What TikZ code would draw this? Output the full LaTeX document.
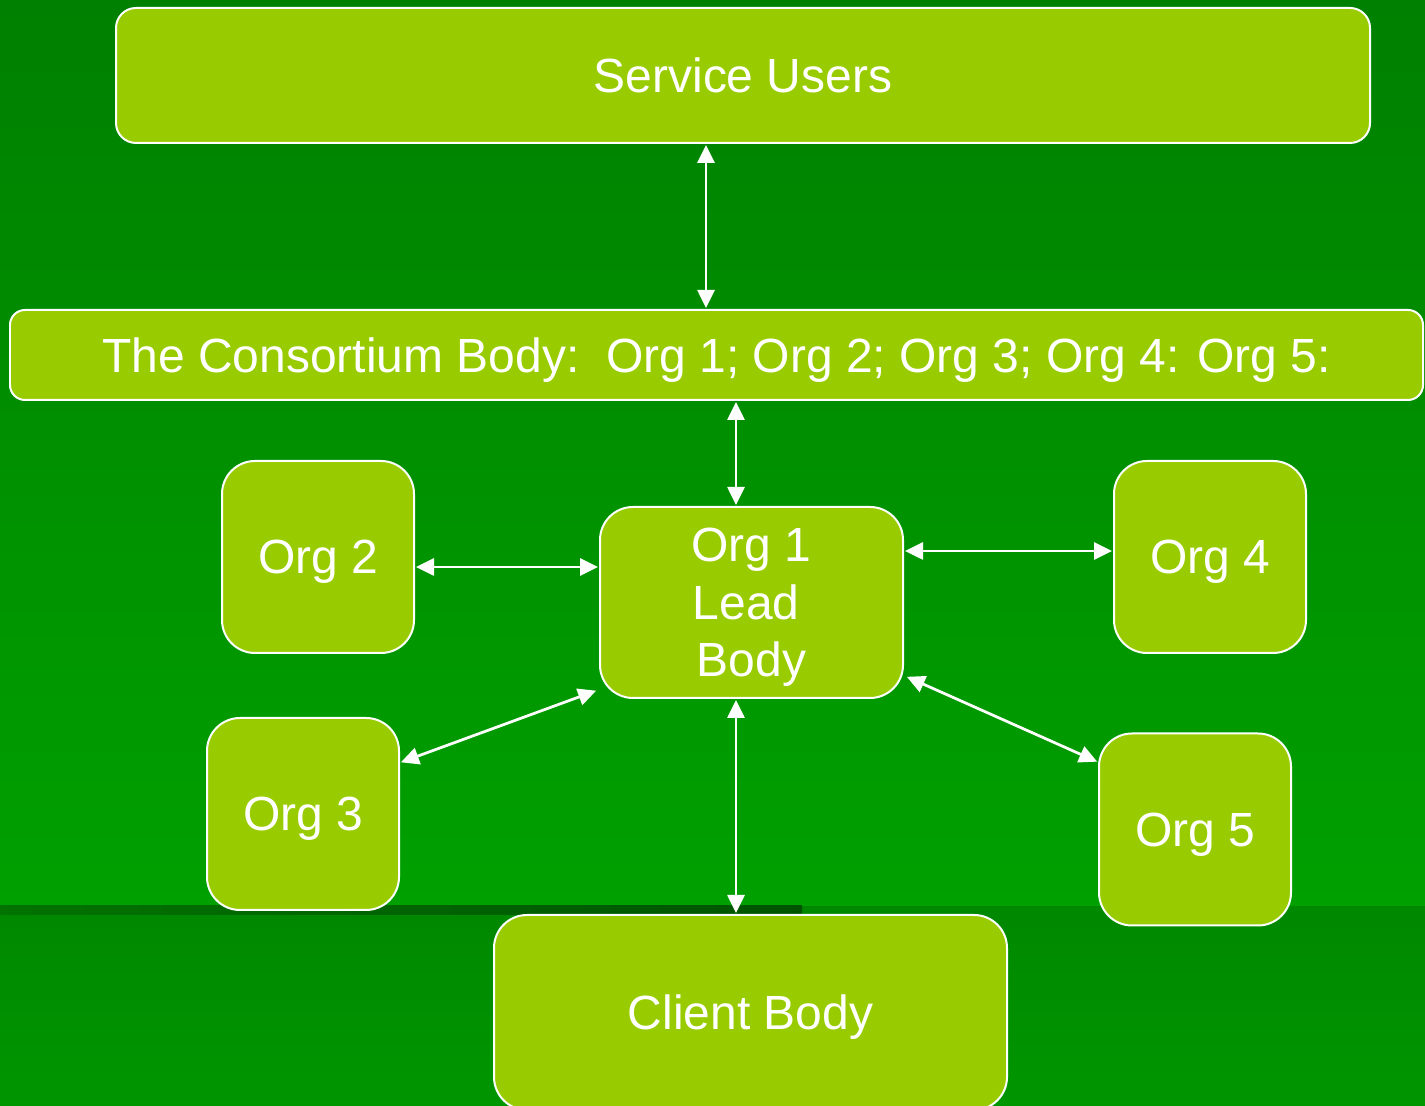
\documentclass[tikz,border=0pt]{standalone}
\usepackage{fontspec}
\setmainfont{Liberation Sans}
\usetikzlibrary{arrows.meta}
\definecolor{bgtop}{HTML}{008000}
\definecolor{bgmid}{HTML}{00A000}
\definecolor{bglow}{HTML}{008800}
\definecolor{bgbot}{HTML}{009600}
\definecolor{boxgreen}{HTML}{99CC00}
\begin{document}
\begin{tikzpicture}[
    box/.style={draw=white,line width=0.04cm,fill=boxgreen,text=white,
        rounded corners=0.66cm,inner sep=0pt,outer sep=0pt,align=center,
        text depth=0pt,font=\fontsize{27.3}{32.7}\selectfont},
    orgbox/.style={box,minimum width=3.84cm,minimum height=3.84cm},
    arr/.style={{Triangle[length=0.36cm,width=0.34cm]}-{Triangle[length=0.36cm,width=0.34cm]},
        white,line width=0.055cm,shorten <=0.04cm,shorten >=0.04cm}
    ]
    % background
    \useasboundingbox (0,0) rectangle (28.5,22.12);
    \shade[top color=bgtop,bottom color=bgmid] (0,3.98) rectangle (28.5,22.12);
    \shade[top color=bglow,bottom color=bgbot] (0,0) rectangle (28.5,3.98);
    \shade[left color=green!45!black,right color=green!33!black] (0,3.82) rectangle (16.04,4.0);
    
    \node[box,rounded corners=0.4cm,minimum width=25.08cm,minimum height=2.7cm] (users) at (14.86,20.61) {Service Users};
    \node[box,rounded corners=0.3cm,minimum width=28.26cm,minimum height=1.8cm] (cons) at (14.33,15.02) {The Consortium Body:\ \ Org 1; Org 2; Org 3; Org 4: Org 5:};
    
    \node[box,minimum width=6.06cm,minimum height=3.82cm] (org1) at (15.03,10.07) {Org 1\\Lead\hphantom{i}\\Body};
    \node[orgbox] (org2) at (6.36,10.98) {Org 2};
    \node[orgbox] (org4) at (24.2,10.98) {Org 4};
    \node[orgbox] (org3) at (6.06,5.84) {Org 3};
    \node[orgbox] (org5) at (23.9,5.53) {Org 5};
    
    \node[box,minimum width=10.26cm,minimum height=3.9cm] (client) at (15.01,1.87) {Client Body};
    
    \draw[arr] ([xshift=-0.74cm]users.south) -- ([xshift=-0.74cm]users.south |- cons.north);
    \draw[arr] ([xshift=-0.31cm]org1.north |- cons.south) -- ([xshift=-0.31cm]org1.north);
    \draw[arr] ([yshift=-0.2cm]org2.east) -- ([yshift=-0.2cm]org2.east -| org1.west);
    \draw[arr] ([yshift=1.03cm]org1.east) -- ([yshift=1.03cm]org1.east -| org4.west);
    \draw[arr] ([yshift=1.02cm]org3.east) -- ([xshift=-0.04cm,yshift=0.16cm]org1.south west);
    \draw[arr] ([xshift=0.04cm,yshift=0.44cm]org1.south east) -- ([yshift=-0.58cm]org5.north west);
    \draw[arr] ([xshift=-0.31cm]org1.south) -- ([xshift=-0.31cm]org1.south |- client.north);
    
\end{tikzpicture}
\end{document}
